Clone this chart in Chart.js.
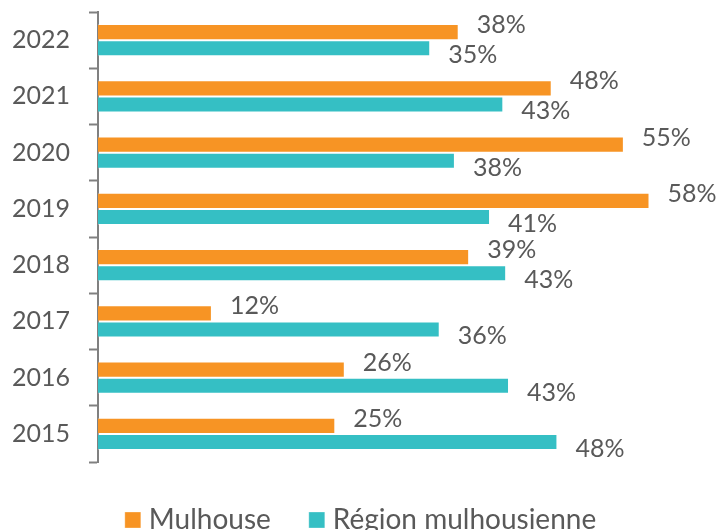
<!DOCTYPE html>
<html>
<head>
<meta charset="utf-8">
<script src="https://cdn.jsdelivr.net/npm/chart.js@4"></script>
<style>
  html,body{margin:0;padding:0;background:#fff;overflow:hidden;}
  /* canvas a bit taller than the window: the legend text is cut at the bottom like the original */
  #wrap{width:722px;height:544px;}
</style>
</head>
<body>
<div id="wrap"><canvas id="c"></canvas></div>
<script>
/* ── Data (bar lengths; labels show them rounded) ── */
const YEARS     = ['2022','2021','2020','2019','2018','2017','2016','2015'];
const MULHOUSE  = [38.0,47.8,55.4,58.1,39.1,12.0,26.0,25.0];
const REGION    = [35.0,42.7,37.6,41.3,43.0,36.0,43.3,48.4];
const SERIES    = ['Mulhouse','Région mulhousienne'];

const ORANGE = '#F79424';
const TEAL   = '#35BFC4';
const TEXT   = '#595959';
const FONT   = 'Lato';

/* ── value labels at the bar ends ── */
const endLabels = {
  id:'endLabels',
  afterDatasetsDraw(chart){
    const ctx = chart.ctx;
    ctx.save();
    ctx.font = '25px ' + FONT;
    ctx.fillStyle = TEXT;
    ctx.textAlign = 'left';
    ctx.textBaseline = 'middle';
    chart.data.datasets.forEach((ds,di)=>{
      chart.getDatasetMeta(di).data.forEach((el,i)=>{
        ctx.fillText(Math.round(ds.data[i])+'%', el.x+18, el.y+(di===0?-7:7));
      });
    });
    ctx.restore();
  }
};

new Chart(document.getElementById('c'), {
  type:'bar',
  data:{
    labels: YEARS,
    datasets:[
      { label:SERIES[0], data:MULHOUSE, backgroundColor:ORANGE, borderColor:'rgba(255,255,255,.3)', borderWidth:1, categoryPercentage:0.57, barPercentage:1 },
      { label:SERIES[1], data:REGION,   backgroundColor:TEAL,   borderColor:'rgba(255,255,255,.3)', borderWidth:1, categoryPercentage:0.57, barPercentage:1 }
    ]
  },
  options:{
    indexAxis:'y',
    responsive:true,
    maintainAspectRatio:false,
    animation:false,
    layout:{ padding:{ left:12, right:7, top:12, bottom:0 } },
    scales:{
      x:{ display:false, min:0, max:65 },
      y:{
        afterFit(s){ s.width = 86; },
        border:{ display:true, color:'#808080', width:2 },
        grid:{ display:true, drawOnChartArea:false, offset:true, tickLength:9, color:'#808080', tickWidth:2 },
        ticks:{ color:TEXT, padding:0, crossAlign:'far', font:{ family:FONT, size:25, lineHeight:0.9 } }
      }
    },
    plugins:{
      legend:{
        position:'bottom',
        // narrow boxWidth + rect point style keeps the square close to its text
        labels:{ color:TEXT, font:{ family:FONT, size:28 }, usePointStyle:true, pointStyle:'rect', boxWidth:4, boxHeight:16, padding:44 }
      },
      tooltip:{ enabled:false }
    }
  },
  plugins:[endLabels]
});
</script>
</body>
</html>
